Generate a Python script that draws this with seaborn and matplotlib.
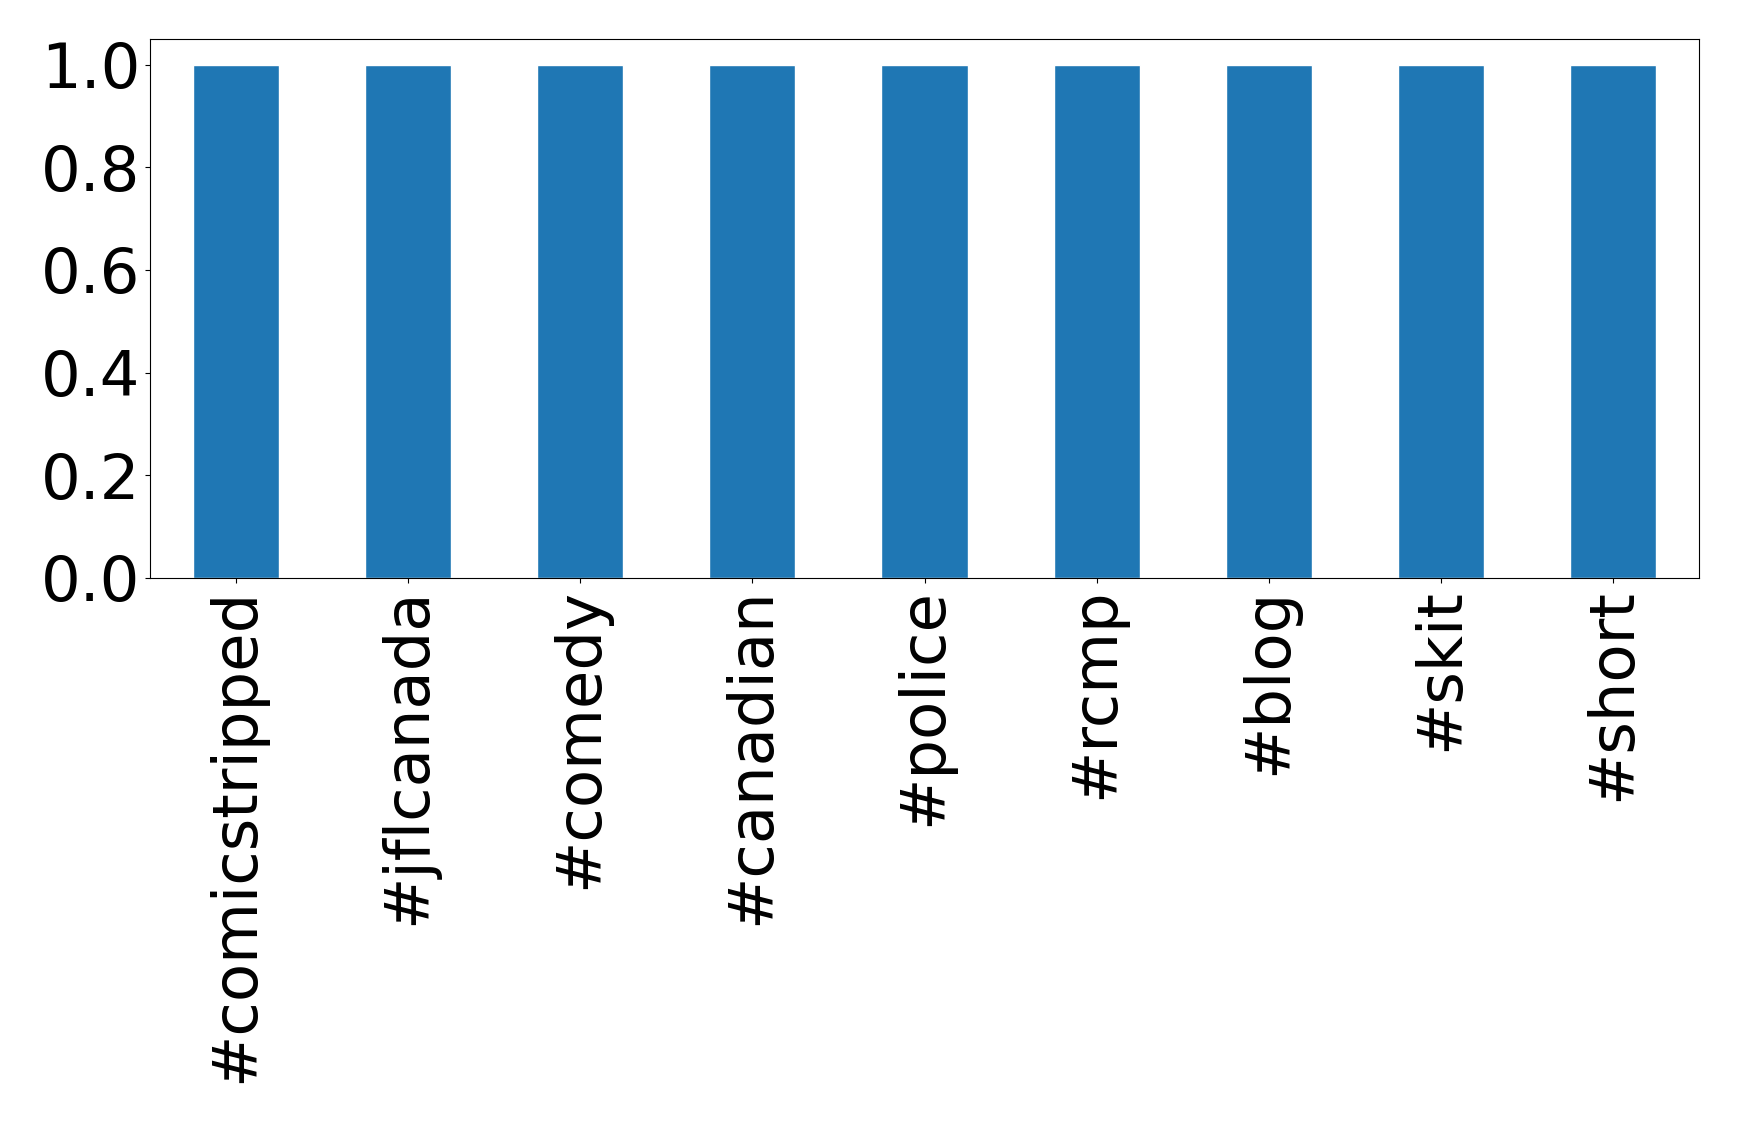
import seaborn as sns
import pandas as pd
import matplotlib.pyplot as plt

HASHTAGS = ['#comicstripped', '#jflcanada', '#comedy', '#canadian', '#police',
            '#rcmp', '#blog', '#skit', '#short']
COUNTS = [1, 1, 1, 1, 1, 1, 1, 1, 1]

df = pd.DataFrame({'tag': HASHTAGS, 'count': COUNTS})

sns.set_style('white')
plt.rcParams['font.family'] = ['DejaVu Sans']
plt.rcParams['text.color'] = 'black'
plt.rcParams['xtick.color'] = 'black'
plt.rcParams['ytick.color'] = 'black'

fig = plt.figure(figsize=(17.39, 11.23), dpi=100)
ax = fig.add_axes([150 / 1739, 1 - 578 / 1123, 1549 / 1739, 539 / 1123])
sns.barplot(data=df, x='tag', y='count', color='#1f77b4', saturation=1,
            width=0.5, ax=ax)
ax.set_xlim(-0.5, len(HASHTAGS) - 0.5)
ax.set_ylim(0, 1.05)
ax.set_yticks([0, 0.2, 0.4, 0.6, 0.8, 1.0])
ax.set_xlabel('')
ax.set_ylabel('')
ax.tick_params(axis='both', labelsize=45, length=3.5, width=0.8,
               bottom=True, left=True, colors='black')
ax.tick_params(axis='x', labelrotation=90)
for s in ax.spines.values():
    s.set_color('black')
    s.set_linewidth(0.8)
fig.savefig('out.png', dpi=100)
